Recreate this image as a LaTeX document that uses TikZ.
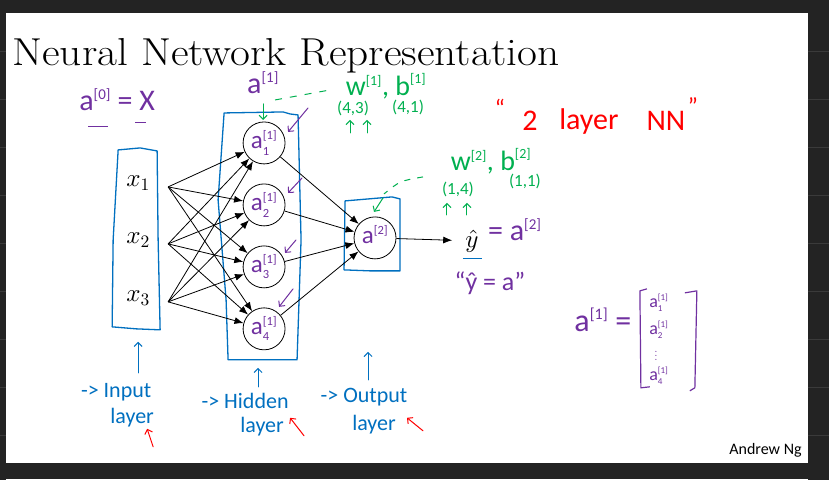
\documentclass[tikz,border=0pt]{standalone}
\usepackage{amsmath}
\usepackage{fontspec}
\usepackage{tikz}
\usetikzlibrary{arrows.meta,positioning}

% scalable math fonts
\DeclareFontShape{OML}{cmm}{m}{it}{<->cmmi10}{}
\DeclareFontShape{OT1}{cmr}{m}{n}{<->cmr10}{}
\DeclareFontShape{OMS}{cmsy}{m}{n}{<->cmsy10}{}

\newfontfamily\handfont[Ligatures=TeX]{Carlito}
\definecolor{inkblue}{RGB}{0,112,192}
\definecolor{inkpurple}{RGB}{112,48,160}
\definecolor{inkgreen}{RGB}{0,176,80}
\definecolor{inkred}{RGB}{255,0,0}
\definecolor{screen}{RGB}{35,35,35}
\definecolor{screenline}{RGB}{58,58,58}

% handwritten a with superscript and subscript
\newcommand{\hs}[3]{$\text{#1}^{\scriptscriptstyle\text{#2}}_{\scriptscriptstyle\text{#3}}$}

\tikzset{
  neuron/.style={circle, draw, line width=0.8pt, minimum size=42pt, inner sep=0pt,
    text=inkpurple, font=\handfont\fontsize{25}{27}\selectfont},
  link/.style={-{Latex[length=9pt,width=7pt]}, line width=0.8pt},
  layerbox/.style={draw=inkblue, line width=1.3pt, line join=round},
  pen/.style={line width=1pt, line cap=round, -{Straight Barb[length=4pt,width=8pt]}},
  hand/.style={font=\handfont\fontsize{#1}{#1}\selectfont, inner sep=0pt},
}

\begin{document}
\begin{tikzpicture}[x=1pt,y=-1pt]
    % screen and slide
    \fill[screen] (0,0) rectangle (829,480);
    \fill[white] (6,13) rectangle (808,463);
    \fill[white] (6,479) rectangle (808,480);
    \foreach \y in {51,99,...,435} {
      \draw[screenline] (808,\y) -- (829,\y);
      \draw[screenline] (0,\y) -- (6,\y);
    }
    \useasboundingbox (0,0) rectangle (829,480);

    \node[anchor=base west, inner sep=0pt, font=\fontsize{39}{42}\selectfont] (title) at (12,66) {\scalebox{1.11}[1]{Neural Network Representation}};

    % layer boxes
    \draw[layerbox] (118,150) -- (140,148) -- (157,151) -- (158,240) -- (160,330) -- (136,329) -- (112,327) -- (113,240) -- cycle;
    \draw[layerbox] (224,113) -- (283,112) -- (290,114) -- (298,115) -- (301,240) -- (297,360) -- (228,360) -- (226,300) -- (218,200) -- cycle;
    \draw[layerbox] (345,201) -- (392,197) -- (400,199) -- (400,271) -- (370,271) -- (344,270) -- cycle;

    % input, hidden and output units
    \foreach \i/\y in {1/183,2/240,3/298} {
      \node[font=\fontsize{25}{28}\selectfont] (x\i) at (138,\y) {$x_\i$};
      \coordinate (s\i) at (168,\y+4);
    }
    \foreach \i/\y in {1/143,2/205,3/267,4/329}
      \node[neuron] (h\i) at (264,\y) {\hs{a}{[1]}{\i}};
    \node[neuron] (out) at (375,238) {\hs{a}{[2]}{}};

    \foreach \i in {1,2,3}
      \foreach \j in {1,...,4}
        \draw[link] (s\i) -- (h\j);
    \foreach \j in {1,...,4}
      \draw[link] (h\j) -- (out);

    \node[font=\fontsize{25}{28}\selectfont, inner sep=1pt] (yhat) at (472,241) {$\hat{y}$};
    \draw[link, shorten >=12pt] (out) -- (yhat);
    \draw[inkblue, line width=1pt] (463,259) -- (482,259);
    \node[hand=30, text=inkpurple, anchor=west] (yeq) at (488,233) {= \hs{a}{[2]}{}};
    \node[hand=26, text=inkpurple] (yquote) at (490,283) {``\^{y} = a''};

    % notation a^[0] = X
    \node[hand=30, text=inkpurple] (azero) at (117,103) {\hs{a}{[0]}{} = X};
    \draw[inkpurple, line width=1pt] (88,127) -- (108,127);
    \draw[inkpurple, line width=1pt] (135,123) -- (146,123);

    % parameters of layer 1
    \node[hand=30, text=inkpurple] (aone) at (263,86) {\hs{a}{[1]}{}};
    \draw[inkgreen, line width=1pt, dash pattern=on 7pt off 8pt] (275,100) -- (330,90);
    \draw[pen, inkgreen] (263,104) -- (263,120);
    \node[hand=28, text=inkgreen] (wone) at (386,88) {\hs{w}{[1]}{}, \hs{b}{[1]}{}};
    \node[hand=17, text=inkgreen] (wdim) at (353,109) {(4,3)};
    \node[hand=17, text=inkgreen] (bdim) at (408,108) {(4,1)};
    \foreach \x in {350,367}
      \draw[pen, inkgreen] (\x,133) -- (\x,120);

    % parameters of layer 2
    \node[hand=28, text=inkgreen] (wtwo) at (491,163) {\hs{w}{[2]}{}, \hs{b}{[2]}{}};
    \node[hand=17, text=inkgreen] (wdimtwo) at (458,190) {(1,4)};
    \node[hand=17, text=inkgreen] (bdimtwo) at (525,182) {(1,1)};
    \foreach \x in {447,467}
      \draw[pen, inkgreen] (\x,215) -- (\x,203);
    \draw[inkgreen, line width=1pt, dash pattern=on 6pt off 7pt] (423,177) .. controls (400,181) .. (384,194);
    \draw[pen, inkgreen] (383,198) -- (374,212);

    % marks on hidden units
    \foreach \i/\dx/\dy/\ex/\ey in {1/44/-35/24/-11, 2/38/-27/24/-12, 3/32/-27/21/-14, 4/29/-40/15/-22}
      \draw[pen, inkpurple] ([shift={(\dx,\dy)}]h\i.center) -- ([shift={(\ex,\ey)}]h\i.center);

    % "2 layer NN"
    \node[hand=24, text=inkred] (qopen) at (500,108) {``};
    \node[hand=30, text=inkred] (two) at (530,121) {2};
    \node[hand=30, text=inkred] (lay) at (589,122) {layer};
    \node[hand=30, text=inkred] (nn) at (666,121) {NN};
    \node[hand=24, text=inkred] (qclose) at (693,106) {''};

    % a^[1] as a column
    \node[hand=32, text=inkpurple] (avec) at (603,324) {\hs{a}{[1]}{} =};
    \draw[inkpurple, line width=1.2pt, line join=round] (647,289) -- (640,291) -- (641,388) -- (650,387);
    \draw[inkpurple, line width=1.2pt, line join=round] (685,293) -- (697,291) -- (695,388) -- (690,391);
    \foreach \k/\y in {1/303,2/330,4/376}
      \node[hand=18, text=inkpurple] (e\k) at (659,\y) {\hs{a}{[1]}{\k}};
    \node[text=inkpurple, font=\fontsize{12}{12}\selectfont, inner sep=0pt] (edots) at (656,353) {$\vdots$};

    % layer names
    \foreach \x/\yt/\yh in {138/373/342, 258/387/368, 368/380/352}
      \draw[pen, inkblue] (\x,\yt) -- (\x,\yh);
    \node[hand=22, text=inkblue] (inp) at (116,392) {{-}> Input};
    \node[hand=22, text=inkblue] (inpl) at (132,418) {layer};
    \node[hand=22, text=inkblue] (hid) at (245,401) {{-}> Hidden};
    \node[hand=22, text=inkblue] (hidl) at (262,427) {layer};
    \node[hand=22, text=inkblue] (outp) at (364,397) {{-}> Output};
    \node[hand=22, text=inkblue] (outl) at (374,425) {layer};
    \draw[pen, inkred] (153,447) -- (147,429);
    \draw[pen, inkred] (304,436) -- (290,418);
    \draw[pen, inkred] (423,431) -- (407,418);

    \node[anchor=base east, inner sep=0pt, font=\handfont\fontsize{16}{16}\selectfont] (credit) at (802,455) {Andrew Ng};
\end{tikzpicture}
\end{document}
